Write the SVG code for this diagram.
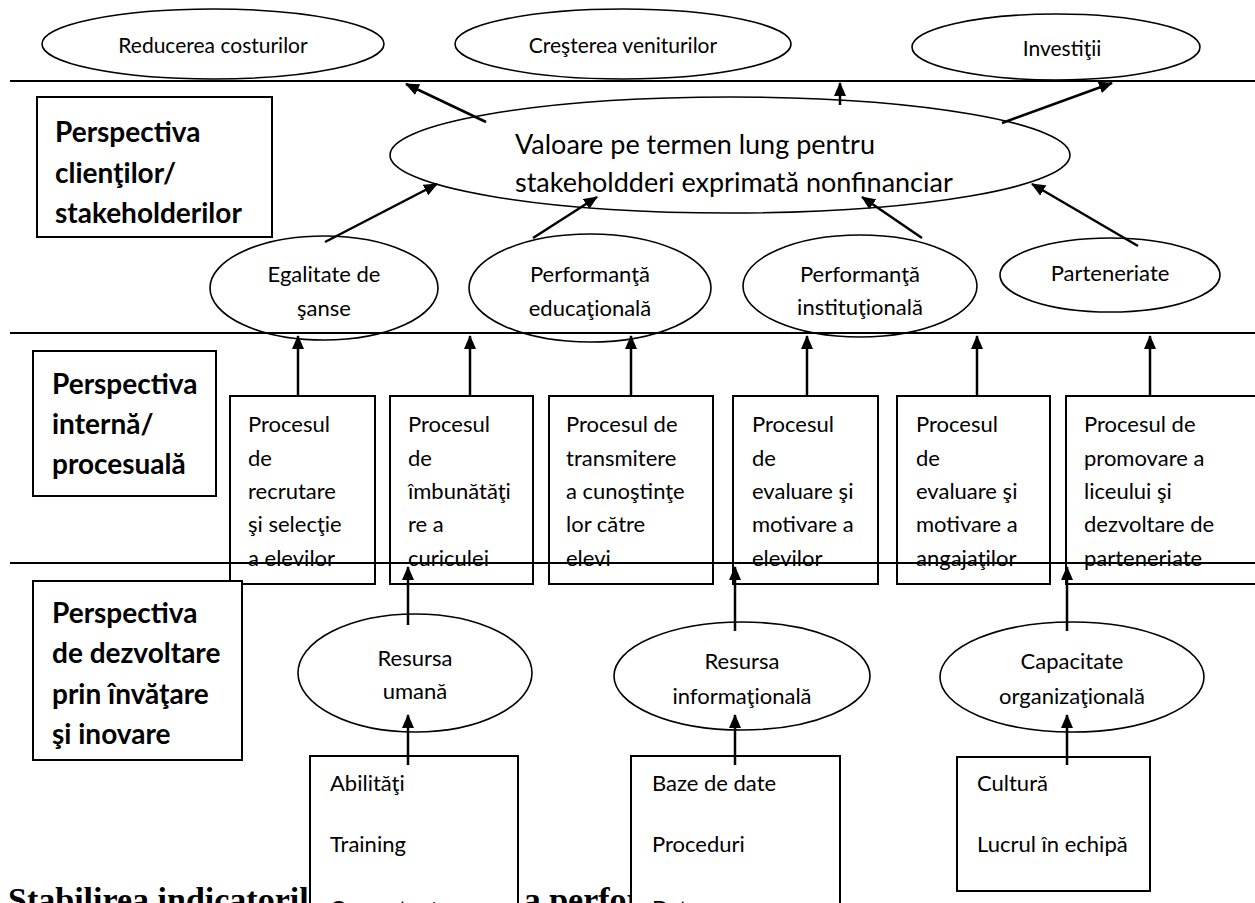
<svg xmlns="http://www.w3.org/2000/svg" width="1255" height="903" viewBox="0 0 1255 903">
  <style>
    .oval { fill: #ffffff; stroke: #000000; stroke-width: 1.6; }
    .box { fill: #ffffff; stroke: #000000; stroke-width: 2; }
    .t { font-family: Lato, "Liberation Sans", sans-serif; font-size: 22px; fill: #000000; dominant-baseline: central; }
    .top { font-size: 21px; }
    .c { text-anchor: middle; }
    .big { font-size: 27px; }
    .lab { font-family: Lato, "Liberation Sans", sans-serif; font-weight: bold; font-size: 28px; fill: #000000; dominant-baseline: central; }
    .head { font-family: "Liberation Serif", "Times New Roman", serif; font-weight: bold; font-size: 34px; fill: #000000; }
    .sep { stroke: #000000; stroke-width: 2; fill: none; }
    .arr { stroke: #000000; stroke-width: 2.5; fill: none; marker-end: url(#tip); }
  </style>
  <defs>
    <marker id="tip" viewBox="0 0 14 12" refX="13" refY="6" markerWidth="14" markerHeight="12" markerUnits="userSpaceOnUse" orient="auto">
      <path d="M0,0 L14,6 L0,12 z" fill="#000000"/>
    </marker>
  </defs>
  <rect width="1255" height="903" fill="#ffffff"/>

  <!-- page heading, partly covered by the resource boxes -->
  <text class="head" x="8" y="911">Stabilirea indicatorilor de evaluare a performanţei</text>

  <!-- financial level -->
  <g id="reducerea-costurilor">
    <ellipse class="oval" cx="213" cy="44" rx="171" ry="35"/>
    <text class="t top c" x="213" y="44">Reducerea costurilor</text>
  </g>
  <g id="cresterea-veniturilor">
    <ellipse class="oval" cx="623" cy="44" rx="168" ry="35"/>
    <text class="t top c" x="623" y="44">Creşterea veniturilor</text>
  </g>
  <g id="investitii">
    <ellipse class="oval" cx="1056" cy="47" rx="144" ry="33"/>
    <text class="t top c" x="1062" y="47">Investiţii</text>
  </g>

  <!-- customer / stakeholder level -->
  <g id="valoare">
    <ellipse class="oval" cx="730" cy="155" rx="340" ry="58"/>
    <text class="t big" x="515" y="143">Valoare pe termen lung pentru</text>
    <text class="t big" x="515" y="181">stakeholdderi exprimată nonfinanciar</text>
  </g>
  <g id="persp-clienti">
    <rect class="box" x="37" y="97" width="235" height="140"/>
    <text class="lab" x="55" y="131">Perspectiva</text>
    <text class="lab" x="55" y="172">clienţilor/</text>
    <text class="lab" x="55" y="212">stakeholderilor</text>
  </g>
  <g id="egalitate">
    <ellipse class="oval" cx="324" cy="288" rx="114" ry="52"/>
    <text class="t c" x="324" y="273">Egalitate de</text>
    <text class="t c" x="324" y="307">şanse</text>
  </g>
  <g id="perf-educationala">
    <ellipse class="oval" cx="590" cy="288" rx="121" ry="54"/>
    <text class="t c" x="590" y="273">Performanţă</text>
    <text class="t c" x="590" y="307">educaţională</text>
  </g>
  <g id="perf-institutionala">
    <ellipse class="oval" cx="860" cy="286" rx="117" ry="51"/>
    <text class="t c" x="860" y="273">Performanţă</text>
    <text class="t c" x="860" y="306">instituţională</text>
  </g>
  <g id="parteneriate">
    <ellipse class="oval" cx="1110" cy="275" rx="110" ry="37"/>
    <text class="t c" x="1110" y="272">Parteneriate</text>
  </g>

  <!-- internal process level -->
  <g id="persp-interna">
    <rect class="box" x="33" y="351" width="183" height="145"/>
    <text class="lab" x="52" y="383">Perspectiva</text>
    <text class="lab" x="52" y="423">internă/</text>
    <text class="lab" x="52" y="463">procesuală</text>
  </g>
  <g id="proc-recrutare">
    <rect class="box" x="230" y="396" width="145" height="188"/>
    <text class="t" x="248" y="423">Procesul</text>
    <text class="t" x="248" y="457">de</text>
    <text class="t" x="248" y="490">recrutare</text>
    <text class="t" x="248" y="523">şi selecţie</text>
    <text class="t" x="248" y="557">a elevilor</text>
  </g>
  <g id="proc-curicula">
    <rect class="box" x="390" y="396" width="143" height="188"/>
    <text class="t" x="408" y="423">Procesul</text>
    <text class="t" x="408" y="457">de</text>
    <text class="t" x="408" y="490">îmbunătăţi</text>
    <text class="t" x="408" y="523">re a</text>
    <text class="t" x="408" y="557">curiculei</text>
  </g>
  <g id="proc-transmitere">
    <rect class="box" x="549" y="396" width="164" height="188"/>
    <text class="t" x="566" y="423">Procesul de</text>
    <text class="t" x="566" y="457">transmitere</text>
    <text class="t" x="566" y="490">a cunoştinţe</text>
    <text class="t" x="566" y="523">lor către</text>
    <text class="t" x="566" y="557">elevi</text>
  </g>
  <g id="proc-evaluare-elevi">
    <rect class="box" x="733" y="396" width="145" height="188"/>
    <text class="t" x="752" y="423">Procesul</text>
    <text class="t" x="752" y="457">de</text>
    <text class="t" x="752" y="490">evaluare şi</text>
    <text class="t" x="752" y="523">motivare a</text>
    <text class="t" x="752" y="557">elevilor</text>
  </g>
  <g id="proc-evaluare-angajati">
    <rect class="box" x="897" y="396" width="153" height="188"/>
    <text class="t" x="916" y="423">Procesul</text>
    <text class="t" x="916" y="457">de</text>
    <text class="t" x="916" y="490">evaluare şi</text>
    <text class="t" x="916" y="523">motivare a</text>
    <text class="t" x="916" y="557">angajaţilor</text>
  </g>
  <g id="proc-promovare">
    <rect class="box" x="1066" y="396" width="200" height="188"/>
    <text class="t" x="1084" y="423">Procesul de</text>
    <text class="t" x="1084" y="457">promovare a</text>
    <text class="t" x="1084" y="490">liceului şi</text>
    <text class="t" x="1084" y="523">dezvoltare de</text>
    <text class="t" x="1084" y="557">parteneriate</text>
  </g>

  <!-- learning and growth level -->
  <g id="persp-dezvoltare">
    <rect class="box" x="33" y="581" width="209" height="179"/>
    <text class="lab" x="52" y="612">Perspectiva</text>
    <text class="lab" x="52" y="652">de dezvoltare</text>
    <text class="lab" x="52" y="693">prin învăţare</text>
    <text class="lab" x="52" y="733">şi inovare</text>
  </g>
  <g id="resursa-umana">
    <ellipse class="oval" cx="415" cy="673" rx="117" ry="59"/>
    <text class="t c" x="415" y="657">Resursa</text>
    <text class="t c" x="415" y="690">umană</text>
  </g>
  <g id="resursa-informationala">
    <ellipse class="oval" cx="742" cy="676" rx="128" ry="54"/>
    <text class="t c" x="742" y="660">Resursa</text>
    <text class="t c" x="742" y="695">informaţională</text>
  </g>
  <g id="capacitate-organizationala">
    <ellipse class="oval" cx="1072" cy="677" rx="132" ry="55"/>
    <text class="t c" x="1072" y="660">Capacitate</text>
    <text class="t c" x="1072" y="695">organizaţională</text>
  </g>
  <g id="abilitati">
    <rect class="box" x="310" y="756" width="208" height="170"/>
    <text class="t" x="330" y="782">Abilităţi</text>
    <text class="t" x="330" y="843">Training</text>
    <text class="t" x="330" y="907">Competenţe</text>
  </g>
  <g id="baze-de-date">
    <rect class="box" x="631" y="756" width="209" height="170"/>
    <text class="t" x="652" y="782">Baze de date</text>
    <text class="t" x="652" y="843">Proceduri</text>
    <text class="t" x="652" y="907">Date</text>
  </g>
  <g id="cultura">
    <rect class="box" x="957" y="757" width="193" height="134"/>
    <text class="t" x="977" y="782">Cultură</text>
    <text class="t" x="977" y="843">Lucrul în echipă</text>
  </g>

  <!-- level separators -->
  <g id="separators">
    <line class="sep" x1="10" y1="81" x2="1255" y2="81"/>
    <line class="sep" x1="10" y1="333" x2="1255" y2="333"/>
    <line class="sep" x1="10" y1="563" x2="1255" y2="563"/>
  </g>

  <g id="connectors">
    <line class="arr" x1="486" y1="122" x2="406" y2="84"/>
    <line class="arr" x1="840" y1="105" x2="840" y2="83"/>
    <line class="arr" x1="1002" y1="123" x2="1112" y2="83"/>
    <line class="arr" x1="325" y1="242" x2="437" y2="184"/>
    <line class="arr" x1="533" y1="238" x2="597" y2="197"/>
    <line class="arr" x1="922" y1="238" x2="862" y2="197"/>
    <line class="arr" x1="1138" y1="246" x2="1032" y2="184"/>
    <line class="arr" x1="298" y1="396" x2="298" y2="336"/>
    <line class="arr" x1="470" y1="396" x2="470" y2="336"/>
    <line class="arr" x1="631" y1="396" x2="631" y2="336"/>
    <line class="arr" x1="807" y1="396" x2="807" y2="336"/>
    <line class="arr" x1="977" y1="396" x2="977" y2="336"/>
    <line class="arr" x1="1150" y1="396" x2="1150" y2="336"/>
    <line class="arr" x1="408" y1="625" x2="408" y2="567"/>
    <line class="arr" x1="735" y1="631" x2="735" y2="567"/>
    <line class="arr" x1="1067" y1="631" x2="1067" y2="567"/>
    <line class="arr" x1="408" y1="765" x2="408" y2="715"/>
    <line class="arr" x1="735" y1="765" x2="735" y2="715"/>
    <line class="arr" x1="1067" y1="765" x2="1067" y2="715"/>
  </g>
</svg>
